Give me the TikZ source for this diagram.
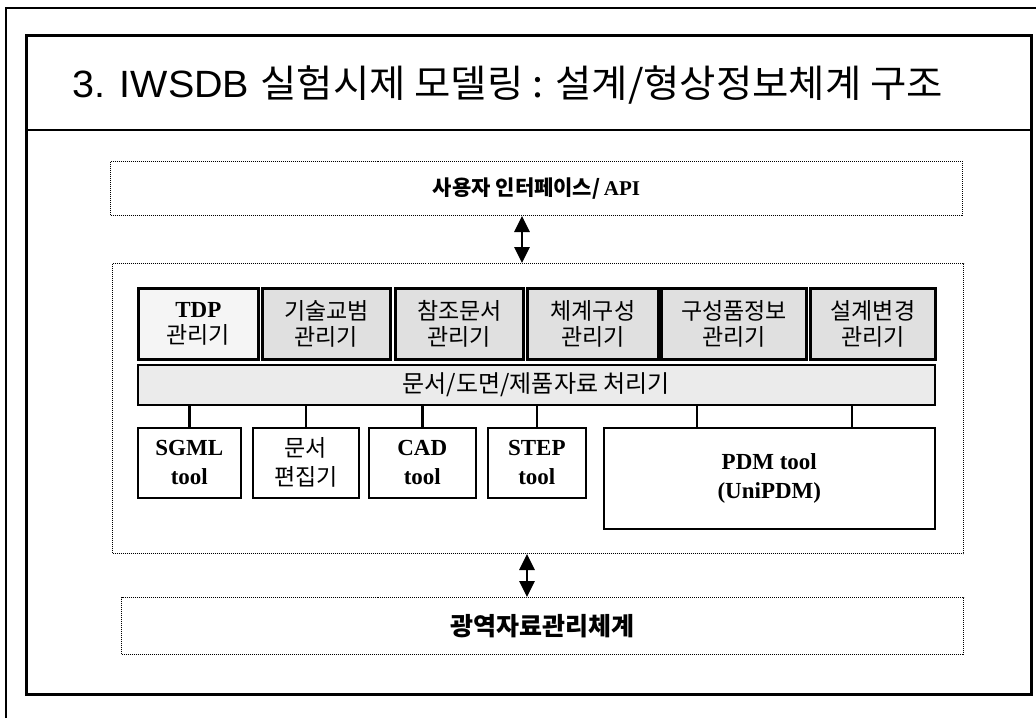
\documentclass[tikz,border=0pt]{standalone}
\usepackage{fontspec}
\setmainfont{Liberation Serif}
\newfontfamily\kr{Noto Sans CJK KR}
\newfontfamily\arial{Liberation Sans}
\newcommand{\lat}[1]{{\rmfamily\bfseries #1}}
\usetikzlibrary{arrows.meta,calc}

\tikzset{
  frameline/.style={line width=2.6pt},
  dotbox/.style={draw, line width=1pt, dash pattern=on 1pt off 1pt, inner sep=0pt},
  mgrbox/.style={draw, line width=2.8pt, fill=gray!24, inner sep=0pt, anchor=north west,
    align=center, font=\kr\fontsize{23}{26}\selectfont},
  barbox/.style={draw, line width=1.6pt, fill=gray!16, inner sep=0pt, anchor=north west,
    font=\kr\fontsize{24}{26}\selectfont},
  toolbox/.style={draw, line width=1.6pt, fill=white, inner sep=0pt, anchor=north west,
    align=center, font=\kr\fontsize{23}{29}\selectfont},
  link/.style={line width=2.4pt},
  dblarrow/.style={line width=2.8pt, {Triangle[length=16pt,width=15pt]}-{Triangle[length=16pt,width=15pt]}},
}

\begin{document}
\begin{tikzpicture}[x=1pt,y=-1pt]
  \useasboundingbox (0,0) rectangle (1036,718);

  % slide frames and title
  \draw[frameline] (6,718) -- (6,8) -- (1036,8);
  \draw[line width=3pt] (26,35) rectangle (1031,694);
  \draw[line width=2.2pt] (26,130) -- (1031,130);
  \node[anchor=base west, inner sep=0pt] (title) at (72,97)
    {\scalebox{1.04}[1]{\fontsize{38}{40}\selectfont{\arial 3. IWSDB }{\kr 실험시제 모델링 : 설계/형상정보체계 구조}}};

  % user interface layer
  \node[dotbox, minimum width=852pt, minimum height=54pt, anchor=north west] (api) at (110,161)
    {\fontsize{21}{24}\selectfont{\kr\bfseries 사용자 인터페이스/}\,\textbf{API}};

  % core system box
  \node[dotbox, minimum width=851pt, minimum height=290pt, anchor=north west] (core) at (112,263) {};

  % manager modules
  \node[mgrbox, fill=gray!8, minimum width=120pt, minimum height=71pt] (tdp) at (137,287)
    {\lat{TDP}\\관리기};
  \node[mgrbox, minimum width=128pt, minimum height=71pt] (tech) at (261,287)
    {기술교범\\관리기};
  \node[mgrbox, minimum width=128pt, minimum height=71pt] (ref) at (394,287)
    {참조문서\\관리기};
  \node[mgrbox, minimum width=131pt, minimum height=71pt] (sys) at (526,287)
    {체계구성\\관리기};
  \node[mgrbox, minimum width=145pt, minimum height=71pt] (comp) at (660,287)
    {구성품정보\\관리기};
  \node[mgrbox, minimum width=125pt, minimum height=71pt] (chg) at (809,287)
    {설계변경\\관리기};

  % document / drawing / product data processor
  \node[barbox, minimum width=797pt, minimum height=40pt] (bar) at (137,364)
    {문서/도면/제품자료 처리기};

  % tools
  \node[toolbox, minimum width=103pt, minimum height=70pt] (sgml) at (137,427)
    {\lat{SGML}\\\lat{tool}};
  \node[toolbox, minimum width=106pt, minimum height=70pt] (edit) at (252,427)
    {문서\\편집기};
  \node[toolbox, minimum width=107pt, minimum height=70pt] (cad) at (368,427)
    {\lat{CAD}\\\lat{tool}};
  \node[toolbox, minimum width=98pt, minimum height=70pt] (step) at (487,427)
    {\lat{STEP}\\\lat{tool}};
  \node[toolbox, minimum width=331pt, minimum height=101pt] (pdm) at (603,427)
    {\lat{PDM tool}\\\lat{(UniPDM)}};

  % wide-area data management layer
  \node[dotbox, minimum width=842pt, minimum height=57pt, anchor=north west] (gdm) at (121,597)
    {\fontsize{25}{28}\selectfont\kr\bfseries 광역자료관리체계};

  % connectors from the processor to the tools
  \coordinate (p1) at (697,0);
  \coordinate (p2) at (852,0);
  \foreach \t in {sgml,edit,cad,step}
    \draw[link] (bar.south -| \t.north) -- (\t.north);
  \draw[link] (bar.south -| p1) -- (pdm.north -| p1);
  \draw[link] (bar.south -| p2) -- (pdm.north -| p2);

  % layer arrows
  \coordinate (a1) at (522,0);
  \coordinate (a2) at (527,0);
  \draw[dblarrow] (api.south -| a1) -- (core.north -| a1);
  \draw[dblarrow] (core.south -| a2) -- (gdm.north -| a2);
\end{tikzpicture}
\end{document}
